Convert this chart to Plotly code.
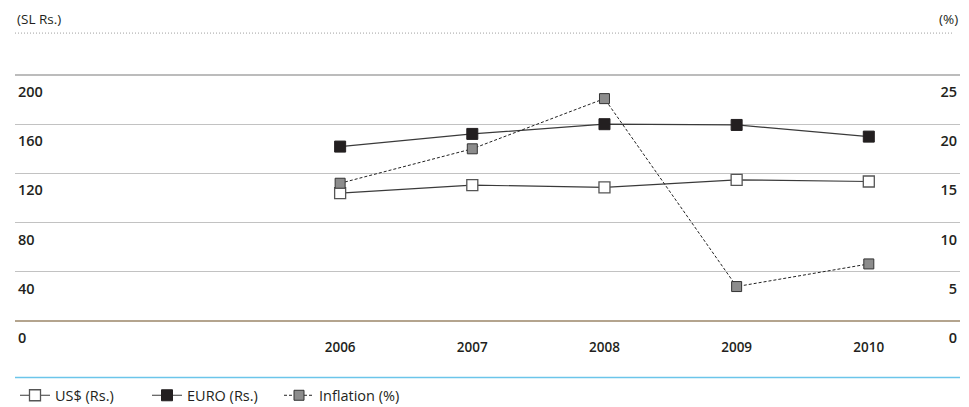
import plotly.graph_objects as go

years = [2006, 2007, 2008, 2009, 2010]
usd = [104.0, 110.5, 108.6, 114.8, 113.4]
euro = [141.8, 152.1, 160.0, 159.4, 149.9]
inflation = [14.0, 17.5, 22.6, 3.5, 5.8]
left_ticks = [0, 40, 80, 120, 160, 200]
right_ticks = [0, 5, 10, 15, 20, 25]

FONT = "Open Sans"
DARK = "#231f20"
PH = 246.5  # plot height in px, used to place page furniture

fig = go.Figure()
fig.add_trace(go.Scatter(
    x=years, y=usd, name="US$ (Rs.)", mode="lines+markers",
    line=dict(color="#3a3a3a", width=1.2),
    marker=dict(symbol="square", size=11, color="white",
                line=dict(color="#555555", width=1.3)),
    cliponaxis=False,
))
fig.add_trace(go.Scatter(
    x=years, y=euro, name="EURO (Rs.)", mode="lines+markers",
    line=dict(color="#3a3a3a", width=1.2),
    marker=dict(symbol="square", size=11, color=DARK,
                line=dict(color=DARK, width=1)),
    cliponaxis=False,
))
fig.add_trace(go.Scatter(
    x=years, y=inflation, name="Inflation (%)", mode="lines+markers",
    yaxis="y2",
    line=dict(color="#222222", width=1, dash="3px,2px"),
    marker=dict(symbol="square", size=10, color="#8c8c8c",
                line=dict(color="#333333", width=1)),
    cliponaxis=False,
))

fig.update_layout(
    width=953, height=405,
    margin=dict(l=7, r=1, t=67, b=91.5),
    paper_bgcolor="white", plot_bgcolor="white",
    font=dict(family=FONT, size=13, color=DARK),
    showlegend=True,
    legend=dict(orientation="h", x=0, xanchor="left", y=-(396 - 321.5) / PH,
                yanchor="middle", bgcolor="rgba(0,0,0,0)",
                font=dict(family=FONT, size=14.5, color=DARK),
                entrywidth=87, traceorder="normal"),
    xaxis=dict(
        range=[2003.54, 2010.69], tickmode="array", tickvals=years,
        ticktext=[str(y) for y in years], showgrid=False, zeroline=False,
        showline=False, ticks="", ticklabelstandoff=16,
        tickfont=dict(family=FONT, size=13.5, color=DARK, weight=600),
    ),
    yaxis=dict(
        range=[0, 200], tickmode="array", tickvals=left_ticks,
        showgrid=True, gridcolor="#c2c2c2", gridwidth=1,
        zeroline=True, zerolinecolor="#b4a48e", zerolinewidth=1.5,
        showline=False, ticks="", ticklabelposition="inside",
        ticklabelshift=17, ticklabelstandoff=0, ticklabeloverflow="allow",
        tickfont=dict(family=FONT, size=14.5, color=DARK, weight=600),
    ),
    yaxis2=dict(
        range=[0, 25], tickmode="array", tickvals=right_ticks,
        overlaying="y", side="right", showgrid=False, zeroline=False,
        showline=False, ticks="", ticklabelposition="inside",
        ticklabelshift=17, ticklabelstandoff=0, ticklabeloverflow="allow",
        tickfont=dict(family=FONT, size=14.5, color=DARK, weight=600),
    ),
    shapes=[
        dict(type="line", xref="paper", yref="paper", x0=0, x1=1, y0=1, y1=1,
             line=dict(color="#7a7a7a", width=1.2)),
        dict(type="line", xref="paper", yref="paper", x0=0, x1=0.993,
             y0=1 + 42 / PH, y1=1 + 42 / PH,
             line=dict(color="#a0a0a0", width=1, dash="1px,2px")),
        dict(type="line", xref="paper", yref="paper", x0=0, x1=1,
             y0=-(378 - 321.5) / PH, y1=-(378 - 321.5) / PH,
             line=dict(color="#6cc5ea", width=1.5)),
    ],
    annotations=[
        dict(text="(SL Rs.)", xref="paper", yref="paper", x=0, y=1 + 56 / PH,
             xanchor="left", yanchor="middle", showarrow=False,
             font=dict(family=FONT, size=13.5, color=DARK)),
        dict(text="(%)", xref="paper", yref="paper", x=1, y=1 + 56 / PH,
             xanchor="right", yanchor="middle", showarrow=False,
             font=dict(family=FONT, size=13.5, color=DARK)),
    ],
)

fig.write_html("out.html")
